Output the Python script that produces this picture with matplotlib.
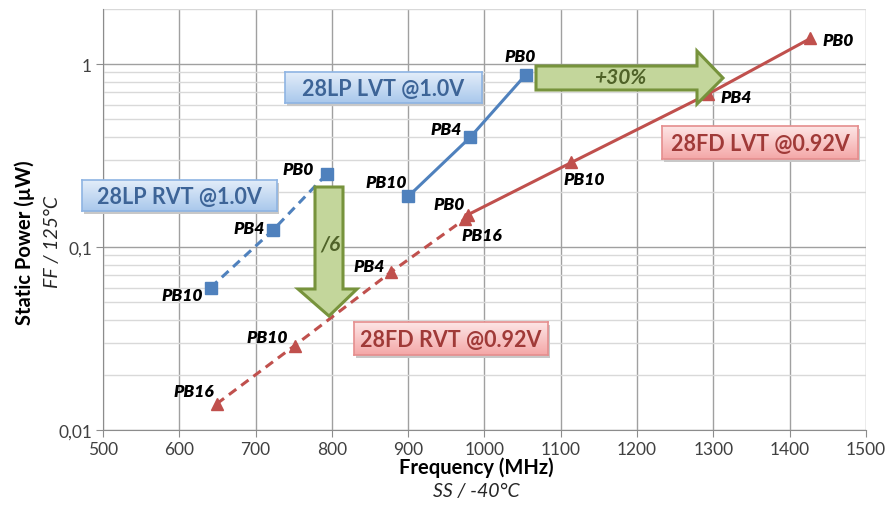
import numpy as np
import matplotlib
matplotlib.use("Agg")
import matplotlib.pyplot as plt
from matplotlib.patches import Polygon
from matplotlib.ticker import FixedLocator, LogLocator, NullFormatter, FixedFormatter

# ---------------- data ----------------
lp_rvt_f = [641, 723, 793]
lp_rvt_p = [0.060, 0.124, 0.25]
lp_rvt_lbl = ["PB10", "PB4", "PB0"]

lp_lvt_f = [900, 981, 1054]
lp_lvt_p = [0.189, 0.397, 0.874]
lp_lvt_lbl = ["PB10", "PB4", "PB0"]

fd_rvt_f = [649, 751, 878, 974]
fd_rvt_p = [0.0139, 0.0289, 0.0733, 0.142]
fd_rvt_lbl = ["PB16", "PB10", "PB4", "PB0"]

fd_lvt_f = [978, 1114, 1293, 1427]
fd_lvt_p = [0.150, 0.290, 0.686, 1.38]
fd_lvt_lbl = ["PB16", "PB10", "PB4", "PB0"]

x_ticks = [500, 600, 700, 800, 900, 1000, 1100, 1200, 1300, 1400, 1500]
y_ticks = [0.01, 0.1, 1]
y_tick_labels = ["0,01", "0,1", "1"]

W, H = 887, 506
BLUE = "#4f81bd"
RED = "#c0504d"
FONT = ["Lato", "DejaVu Sans"]
plt.rcParams["font.family"] = FONT

fig = plt.figure(figsize=(W / 100, H / 100), dpi=100)
fig.patch.set_facecolor("white")


def fx(px):
    return px / W


def fy(py):
    return 1 - py / H


ax = fig.add_axes([fx(103), fy(431), 763 / W, 421 / H])
ax.set_yscale("log")
ax.set_xlim(500, 1500)
ax.set_ylim(0.01, 2.0)

ax.xaxis.set_major_locator(FixedLocator(x_ticks))
ax.yaxis.set_major_locator(FixedLocator(y_ticks))
ax.yaxis.set_major_formatter(FixedFormatter(y_tick_labels))
ax.yaxis.set_minor_locator(LogLocator(base=10, subs=np.arange(2, 10)))
ax.yaxis.set_minor_formatter(NullFormatter())

ax.grid(True, which="major", axis="both", color="#a0a0a0", lw=1.0)
ax.grid(True, which="minor", axis="y", color="#d9d9d9", lw=1.0)
ax.set_axisbelow(True)
for s in ["top", "right"]:
    ax.spines[s].set_visible(False)
for s in ["left", "bottom"]:
    ax.spines[s].set_color("#8c8c8c")
ax.tick_params(axis="x", which="major", length=5, color="#8c8c8c", labelsize=12.5,
               labelcolor="#404040", pad=3)
ax.tick_params(axis="y", which="major", length=5, color="#8c8c8c", labelsize=12.5,
               labelcolor="#404040", pad=3)
ax.tick_params(axis="y", which="minor", length=0)

# series
ax.plot(lp_rvt_f, lp_rvt_p, color=BLUE, lw=2.2, ls=(0, (3, 2)), marker="s", ms=8, zorder=3)
ax.plot(lp_lvt_f, lp_lvt_p, color=BLUE, lw=2.2, ls="-", marker="s", ms=8, zorder=3)
ax.plot(fd_rvt_f, fd_rvt_p, color=RED, lw=2.2, ls=(0, (3, 2)), marker="^", ms=9, zorder=3)
ax.plot(fd_lvt_f, fd_lvt_p, color=RED, lw=2.2, ls="-", marker="^", ms=9, zorder=3)


def labels(fs, ps, lbls, offs):
    for f, p, t, (dx, dy, ha) in zip(fs, ps, lbls, offs):
        ax.annotate(t, (f, p), xytext=(dx, dy), textcoords="offset pixels",
                    ha=ha, va="center", fontsize=12.5, fontweight="heavy",
                    fontstyle="italic", color="black", zorder=5)


labels(lp_rvt_f, lp_rvt_p, lp_rvt_lbl, [(-8, -7, "right"), (-8, 2, "right"), (-13, 5, "right")])
labels(lp_lvt_f, lp_lvt_p, lp_lvt_lbl, [(-1, 14, "right"), (-8, 8, "right"), (-6, 19, "center")])
labels(fd_rvt_f, fd_rvt_p, fd_rvt_lbl, [(-3, 13, "right"), (-7, 9, "right"), (-7, 6, "right"), (0, 15, "right")])
labels(fd_lvt_f, fd_lvt_p, fd_lvt_lbl, [(-6, -20, "left"), (-8, -17, "left"), (12, -3, "left"), (12, -2, "left")])

# axis titles
fig.text(fx(25), fy(243), "Static Power (µW)", rotation=90, ha="center", va="center",
         fontsize=14.5, fontweight="bold", color="black")
fig.text(fx(53), fy(242), "FF / 125°C", rotation=90, ha="center", va="center",
         fontsize=14, fontstyle="italic", color="#262626")
fig.text(fx(476), fy(468), "Frequency (MHz)", ha="center", va="center",
         fontsize=14.5, fontweight="bold", color="black")
fig.text(fx(476), fy(492), "SS / -40°C", ha="center", va="center",
         fontsize=14, fontstyle="italic", color="#262626")


# gradient label boxes
def gbox(x0, y0, x1, y1, ctop, cbot, edge, text, tcolor):
    sh = fig.add_axes([fx(x0 + 2), fy(y1 + 3), (x1 - x0) / W, (y1 - y0) / H])
    sh.set_facecolor("#c8c8c8")
    sh.set_xticks([]); sh.set_yticks([])
    for s in sh.spines.values():
        s.set_visible(False)
    b = fig.add_axes([fx(x0), fy(y1), (x1 - x0) / W, (y1 - y0) / H])
    c0 = np.array(matplotlib.colors.to_rgb(ctop))
    c1 = np.array(matplotlib.colors.to_rgb(cbot))
    t = np.linspace(0, 1, 64)[:, None]
    img = (c0[None, :] * (1 - t) + c1[None, :] * t)[:, None, :]
    b.imshow(img, aspect="auto", extent=(0, 1, 0, 1), origin="upper")
    b.set_xlim(0, 1); b.set_ylim(0, 1)
    b.set_xticks([]); b.set_yticks([])
    for s in b.spines.values():
        s.set_color(edge); s.set_linewidth(1.2)
    b.text(0.5, 0.48, text, ha="center", va="center", fontsize=15.5, fontweight="bold",
           color=tcolor)


gbox(285, 73, 482, 104, "#e3edf9", "#a9c8ec", "#8eb4e3", "28LP LVT @1.0V", "#3d6497")
gbox(82, 181, 277, 212, "#e3edf9", "#a9c8ec", "#8eb4e3", "28LP RVT @1.0V", "#3d6497")
gbox(662, 127, 858, 160, "#fde6e6", "#f4a7a7", "#e58e8e", "28FD LVT @0.92V", "#a03a38")
gbox(354, 323, 548, 356, "#fde6e6", "#f4a7a7", "#e58e8e", "28FD RVT @0.92V", "#a03a38")

# green arrows
GFILL = "#c3d69b"
GEDGE = "#77933c"
right_arrow = [(536, 67), (697, 67), (697, 52), (723, 79), (697, 105), (697, 91), (536, 91)]
down_arrow = [(315, 188), (343, 188), (343, 290), (357, 290), (329, 317), (298, 290), (315, 290)]
for pts in (right_arrow, down_arrow):
    poly = Polygon([(fx(a), fy(b)) for a, b in pts], closed=True, transform=fig.transFigure,
                   facecolor=GFILL, edgecolor=GEDGE, lw=2.2, zorder=5)
    fig.add_artist(poly)
fig.text(fx(620), fy(78), "+30%", ha="center", va="center", fontsize=15, fontweight="bold",
         fontstyle="italic", color="#4f6228", zorder=6)
fig.text(fx(330), fy(245), "/6", ha="center", va="center", fontsize=15, fontweight="bold",
         fontstyle="italic", color="#4f6228", zorder=6)

fig.savefig("out.png", dpi=100, facecolor="white")
